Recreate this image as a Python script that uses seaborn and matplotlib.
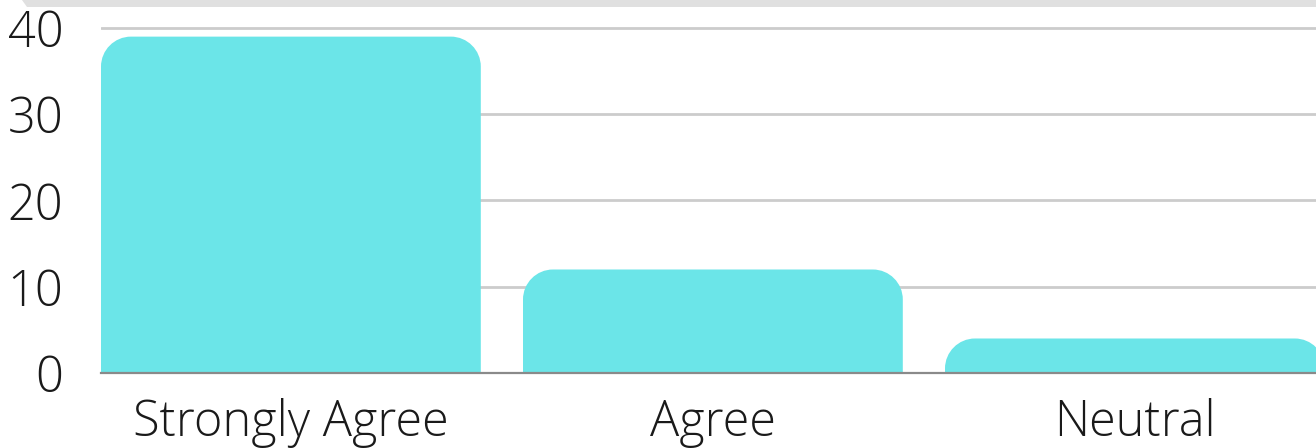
import matplotlib
matplotlib.use("Agg")
import matplotlib.pyplot as plt
import numpy as np
import pandas as pd
import seaborn as sns
from matplotlib.path import Path
from matplotlib.patches import PathPatch, Polygon

# Survey responses
categories = ["Strongly Agree", "Agree", "Neutral"]
responses = [39, 12, 4]
y_ticks = [0, 10, 20, 30, 40]

BAR_COLOR = "#6be5e8"
W, H = 1316, 448
Y_MAX = 41
PX_PER_UNIT = 8.625
PX_PER_CAT = 422
AX_LEFT = 101
AX_W = W - AX_LEFT

sns.set_theme(style="white")
plt.rcParams["font.family"] = ["Open Sans", "DejaVu Sans"]
plt.rcParams["font.weight"] = "light"

fig = plt.figure(figsize=(W / 100, H / 100), dpi=100)
ax_h = Y_MAX * PX_PER_UNIT
ax = fig.add_axes([AX_LEFT / W, 75 / H, AX_W / W, ax_h / H])

df = pd.DataFrame({"category": categories, "responses": responses})
sns.barplot(data=df, x="category", y="responses", color=BAR_COLOR,
            width=0.9, saturation=1, ax=ax, zorder=2)

ax.set_xlim(-0.45, -0.45 + AX_W / PX_PER_CAT)
ax.set_ylim(0, Y_MAX)

# Rounded top corners on each bar
rx = 30 / PX_PER_CAT
ry = 30 / PX_PER_UNIT
k = 0.5523
for p in list(ax.patches):
    x0, y0 = p.get_x(), p.get_y()
    x1, y1 = x0 + p.get_width(), y0 + p.get_height()
    verts = [
        (x0, y0), (x0, y1 - ry),
        (x0, y1 - ry + k * ry), (x0 + rx - k * rx, y1), (x0 + rx, y1),
        (x1 - rx, y1),
        (x1 - rx + k * rx, y1), (x1, y1 - ry + k * ry), (x1, y1 - ry),
        (x1, y0), (x0, y0),
    ]
    codes = [Path.MOVETO, Path.LINETO,
             Path.CURVE4, Path.CURVE4, Path.CURVE4,
             Path.LINETO,
             Path.CURVE4, Path.CURVE4, Path.CURVE4,
             Path.LINETO, Path.CLOSEPOLY]
    p.remove()
    ax.add_patch(PathPatch(Path(verts, codes), facecolor=BAR_COLOR,
                           edgecolor="none", zorder=2))

# Grid and baseline
ax.set_yticks(y_ticks)
ax.yaxis.grid(True, color="#cccccc", linewidth=2, zorder=0)
ax.set_axisbelow(True)
for s in ["top", "right", "left"]:
    ax.spines[s].set_visible(False)
ax.spines["bottom"].set_color("#8a8a8a")
ax.spines["bottom"].set_linewidth(1.6)
ax.spines["bottom"].set_zorder(3)

ax.set_xlabel("")
ax.set_ylabel("")
ax.tick_params(axis="y", length=0, labelsize=35, pad=27, labelcolor="#1a1a1a")
ax.tick_params(axis="x", length=0, labelsize=35, pad=18, labelcolor="#1a1a1a")

# Header strip along the top edge
fig.patches.append(Polygon([(22 / W, 1.0), (1.0, 1.0), (1.0, 1 - 7 / H), (27 / W, 1 - 7 / H)],
                           closed=True, transform=fig.transFigure,
                           facecolor="#e0e0e0", edgecolor="none"))

fig.savefig("out.png", dpi=100)
